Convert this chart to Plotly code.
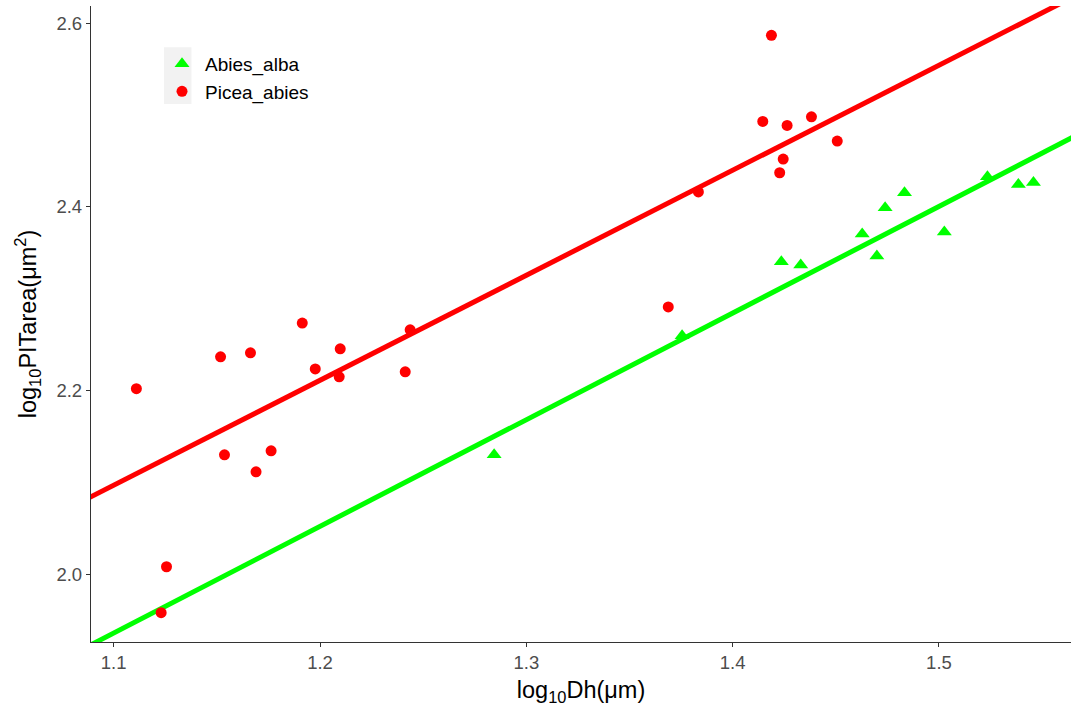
import numpy as np
import plotly.graph_objects as go

# Abies_alba (triangles)
abies_x = [1.2844, 1.3755, 1.4236, 1.4330, 1.4628, 1.4699, 1.4739, 1.4833, 1.5026, 1.5235, 1.5385, 1.5458]
abies_y = [2.130, 2.2597, 2.3403, 2.3367, 2.3705, 2.3465, 2.3991, 2.4155, 2.3727, 2.4329, 2.4246, 2.4268]

# Picea_abies (circles)
picea_x = [1.111, 1.1256, 1.123, 1.1518, 1.1537, 1.1663, 1.169, 1.1763, 1.1914, 1.1977, 1.2098, 1.2093,
           1.2413, 1.2437, 1.3688, 1.3834, 1.4188, 1.4146, 1.4264, 1.4382, 1.4507, 1.4245, 1.4228]
picea_y = [2.202, 2.008, 1.958, 2.2367, 2.130, 2.2411, 2.1114, 2.1343, 2.2735, 2.2236, 2.2454, 2.2149,
           2.2204, 2.2662, 2.2911, 2.4164, 2.587, 2.4932, 2.4889, 2.4983, 2.4718, 2.4522, 2.4373]

# fitted lines (intercept, slope)
abies_fit = [0.6576, 1.162]
picea_fit = [0.8384, 1.144]

x_range = [1.089, 1.564]
y_range = [1.926, 2.619]

x_ticks = [1.1, 1.2, 1.3, 1.4, 1.5]
y_ticks = [2.0, 2.2, 2.4, 2.6]

GREEN = "#00FF00"
RED = "#FF0000"

xl = np.linspace(x_range[0] - 0.01, x_range[1] + 0.01, 50)

fig = go.Figure()
fig.add_trace(go.Scatter(x=xl, y=abies_fit[0] + abies_fit[1] * xl, mode="lines",
                         line=dict(color=GREEN, width=5), showlegend=False, hoverinfo="skip"))
fig.add_trace(go.Scatter(x=xl, y=picea_fit[0] + picea_fit[1] * xl, mode="lines",
                         line=dict(color=RED, width=5), showlegend=False, hoverinfo="skip"))
fig.add_trace(go.Scatter(x=abies_x, y=abies_y, mode="markers", name="Abies_alba",
                         marker=dict(symbol="triangle-up", size=13, color=GREEN)))
fig.add_trace(go.Scatter(x=picea_x, y=picea_y, mode="markers", name="Picea_abies",
                         marker=dict(symbol="circle", size=11, color=RED)))

fig.add_shape(type="rect", xref="paper", yref="paper", x0=0.0745, x1=0.1025, y0=0.846, y1=0.935,
              fillcolor="#F2F2F2", line=dict(width=0), layer="below")

axis_common = dict(showgrid=False, zeroline=False, showline=True, linecolor="#333333", linewidth=1.3,
                   ticks="outside", ticklen=4, tickcolor="#333333", tickwidth=1.1,
                   tickfont=dict(family="Liberation Sans, Arial, sans-serif", size=18.5, color="#4D4D4D"),
                   mirror=False, automargin=False)

fig.update_layout(
    width=1071, height=711,
    margin=dict(l=91, r=0, t=6, b=69, autoexpand=False),
    plot_bgcolor="white", paper_bgcolor="white",
    font=dict(family="Liberation Sans, Arial, sans-serif"),
    xaxis=dict(range=x_range, tickvals=x_ticks, ticktext=[f"{v:.1f}" for v in x_ticks],
               title=dict(text="log<sub>10</sub>Dh(μm)", font=dict(size=23.5, color="black"), standoff=9),
               **axis_common),
    yaxis=dict(range=y_range, tickvals=y_ticks, ticktext=[f"{v:.1f}" for v in y_ticks],
               title=dict(text="log<sub>10</sub>PITarea(μm<sup>2</sup>)", font=dict(size=23.5, color="black"), standoff=13),
               **axis_common),
    legend=dict(x=0.0694, y=0.939, xanchor="left", yanchor="top", bgcolor="rgba(0,0,0,0)",
                font=dict(size=19, color="black"), tracegroupgap=0, itemwidth=36),
)

fig.write_html("out.html", config={"displayModeBar": False},
               post_script="document.body.style.margin='0';document.body.style.overflow='hidden';")
